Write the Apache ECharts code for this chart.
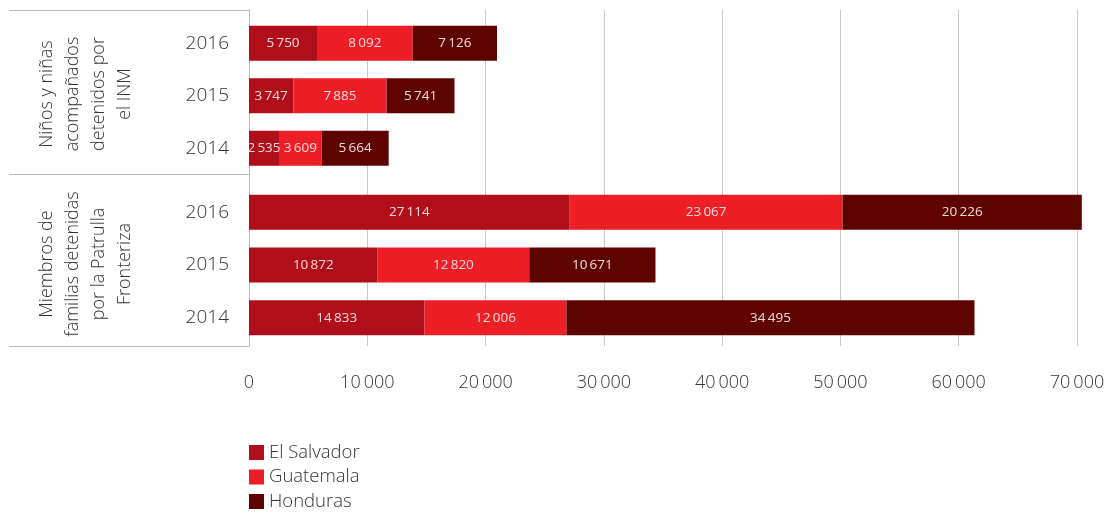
<!DOCTYPE html>
<html><head><meta charset="utf-8">
<script src="https://cdn.jsdelivr.net/npm/echarts@6/dist/echarts.min.js"></script>
<style>html,body{margin:0;padding:0;background:#fff}#c{width:1111px;height:512px}</style>
</head><body><div id="c"></div>
<script>
const years = ['2014', '2015', '2016'];
const groupNames = ['Niños y niñas\nacompañados\ndetenidos por\nel INM', 'Miembros de\nfamilias detenidas\npor la Patrulla\nFronteriza'];
const countries = ['El Salvador', 'Guatemala', 'Honduras'];
// Group 1: Niños y niñas acompañados detenidos por el INM (2014, 2015, 2016)
const inmElSalvador = [2535, 3747, 5750];
const inmGuatemala = [3609, 7885, 8092];
const inmHonduras = [5664, 5741, 7126];
// Group 2: Miembros de familias detenidas por la Patrulla Fronteriza
const bpElSalvador = [14833, 10872, 27114];
const bpGuatemala = [12006, 12820, 23067];
const bpHonduras = [34495, 10671, 20226];
const xTicks = [0, 10000, 20000, 30000, 40000, 50000, 60000, 70000];

const colors = ['#b00e18', '#ee1e27', '#5d0300'];
const FONT = "'Open Sans', 'DejaVu Sans', sans-serif";
const fmt = v => String(v).replace(/\B(?=(\d{3})+(?!\d))/g, '\u2009');

const xBase = (gi, showLabels) => ({
  type: 'value', gridIndex: gi, min: xTicks[0], max: xTicks[xTicks.length - 1], interval: 10000,
  axisLine: { show: false }, axisTick: { show: false },
  splitLine: { show: gi === 0, lineStyle: { color: '#c8c8c8', width: 1 } },
  axisLabel: { show: showLabels, margin: 28, fontSize: 18, color: '#333', fontFamily: FONT, fontWeight: 300, formatter: fmt }
});
const yCat = (gi) => ({
  type: 'category', gridIndex: gi, data: years,
  axisLine: { show: false }, axisTick: { show: false },
  axisLabel: { margin: 20, fontSize: 19, color: '#333', fontFamily: FONT, fontWeight: 300 }
});
const mk = (name, data, gi, ci) => ({
  name, type: 'bar', stack: 's' + gi, xAxisIndex: gi, yAxisIndex: gi, data,
  barWidth: 35, clip: false, itemStyle: { color: colors[ci] },
  label: { show: true, position: 'inside', color: '#f4dada', fontSize: 13.5, fontFamily: FONT, formatter: p => fmt(p.value) }
});
const lg = (i) => ({
  data: [countries[i]], orient: 'vertical', left: 249, top: 443 + i * 24.5, padding: 0,
  icon: 'rect', itemWidth: 15, itemHeight: 15,
  textStyle: { fontSize: 18.5, color: '#333', fontFamily: FONT, fontWeight: 300 }
});

const chart = echarts.init(document.getElementById('c'));
chart.setOption({
  animation: false,
  grid: [
    { left: 249, right: 34, top: 10, height: 336 },
    { left: 249, right: 34, top: 17, height: 157.5 },
    { left: 249, right: 34, top: 186, height: 158 }
  ],
  xAxis: [xBase(0, true), xBase(1, false), xBase(2, false)],
  yAxis: [
    { type: 'category', gridIndex: 0, data: ['a'], axisLine: { show: true, lineStyle: { color: '#bbb' } }, axisTick: { show: false }, axisLabel: { show: false } },
    yCat(1), yCat(2)
  ],
  legend: [lg(0), lg(1), lg(2)],
  graphic: [
    { type: 'line', shape: { x1: 9, y1: 10.5, x2: 249, y2: 10.5 }, style: { stroke: '#bbb', lineWidth: 1 } },
    { type: 'line', shape: { x1: 9, y1: 174.5, x2: 249, y2: 174.5 }, style: { stroke: '#bbb', lineWidth: 1 } },
    { type: 'line', shape: { x1: 9, y1: 346.5, x2: 249, y2: 346.5 }, style: { stroke: '#bbb', lineWidth: 1 } },
    { type: 'text', x: 86, y: 94, rotation: Math.PI / 2, style: { text: groupNames[0], fontSize: 18, lineHeight: 26, fill: '#333', fontFamily: FONT, fontWeight: 300, align: 'center', verticalAlign: 'middle' } },
    { type: 'text', x: 86, y: 264, rotation: Math.PI / 2, style: { text: groupNames[1], fontSize: 18, lineHeight: 26, fill: '#333', fontFamily: FONT, fontWeight: 300, align: 'center', verticalAlign: 'middle' } }
  ],
  series: [
    mk(countries[0], inmElSalvador, 1, 0),
    mk(countries[1], inmGuatemala, 1, 1),
    mk(countries[2], inmHonduras, 1, 2),
    mk(countries[0], bpElSalvador, 2, 0),
    mk(countries[1], bpGuatemala, 2, 1),
    mk(countries[2], bpHonduras, 2, 2)
  ]
});
</script></body></html>
